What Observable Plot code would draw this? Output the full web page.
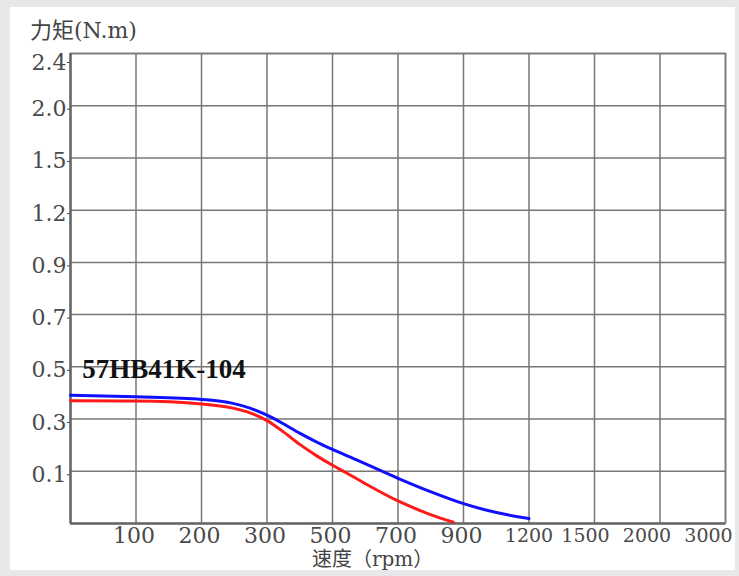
<!DOCTYPE html>
<html>
<head>
<meta charset="utf-8">
<script src="https://cdn.jsdelivr.net/npm/d3@7"></script>
<script src="https://cdn.jsdelivr.net/npm/@observablehq/plot@0.6"></script>
<style>
  html, body { margin: 0; padding: 0; background: #e8e8ea; }
  #page { position: relative; width: 739px; height: 576px; overflow: hidden; }
  #card { position: absolute; left: 10px; top: 7px; width: 725px; height: 563px; background: #fff; }
  #ytitle { position: absolute; left: 20px; top: 12px; font-family: "DejaVu Serif", "Noto Sans CJK SC", serif; font-size: 22px; line-height: 24px; color: #444; white-space: nowrap; }
  #xtitle { position: absolute; left: 302px; top: 543px; font-family: "DejaVu Serif", "Noto Sans CJK SC", serif; font-size: 20px; line-height: 18px; color: #444; white-space: nowrap; }
  #chart { position: absolute; left: 0; top: 0; }
</style>
</head>
<body>
<div id="page"><div id="card">
  <div id="chart"></div>
  <div id="ytitle"></div>
  <div id="xtitle"></div>
</div></div>
<script>
// Axis tick values (non-uniform, evenly spaced in the chart)
const speedTicks = [0, 100, 200, 300, 500, 700, 900, 1200, 1500, 2000, 3000];
const torqueTicks = [0, 0.1, 0.3, 0.5, 0.7, 0.9, 1.2, 1.5, 2.0, 2.4];

// Texts
const yTitle = "力矩(N.m)";
const xTitle = "速度（rpm）";
const modelLabel = ["57HB41K-104"];

// Blue curve (rpm, N.m)
const blueSpeed  = [0, 100, 200, 248, 274, 300, 350, 401, 452, 500, 553, 700, 797, 900, 1051, 1200];
const blueTorque = [0.391, 0.385, 0.375, 0.360, 0.342, 0.315, 0.282, 0.245, 0.212, 0.184, 0.155, 0.0866, 0.0615, 0.038, 0.0209, 0.0095];

// Red curve (rpm, N.m)
const redSpeed  = [0, 100, 200, 248, 274, 300, 350, 401, 452, 500, 543, 594, 700, 797, 869];
const redTorque = [0.370, 0.369, 0.358, 0.342, 0.324, 0.294, 0.251, 0.202, 0.159, 0.123, 0.0968, 0.0785, 0.0432, 0.0176, 0.0026];

const blue = blueSpeed.map((s, i) => ({speed: s, torque: blueTorque[i]}));
const red = redSpeed.map((s, i) => ({speed: s, torque: redTorque[i]}));

document.getElementById("ytitle").textContent = yTitle;
document.getElementById("xtitle").textContent = xTitle;

const xLabelsA = speedTicks.filter(d => d > 0 && d < 1200);
const xLabelsB = speedTicks.filter(d => d === 1200);
const xLabelsC = speedTicks.filter(d => d === 1500);
const xLabelsD = speedTicks.filter(d => d === 2000);
const xLabelsE = speedTicks.filter(d => d === 3000);
const yLabelsA = torqueTicks.filter(d => d > 0 && d < 2.4);
const yLabelsB = torqueTicks.filter(d => d >= 2.4);

const gridStyle = {stroke: "#777", strokeOpacity: 1, strokeWidth: 1.5};
const xAxisOpts = {tickSize: 0, tickPadding: 4, tickFormat: d => String(d), label: null};

const chart = Plot.plot({
  width: 725,
  height: 563,
  marginLeft: 60,
  marginRight: 10,
  marginTop: 46,
  marginBottom: 47,
  style: {fontFamily: "DejaVu Serif, serif", fontSize: "22px", color: "#4a4a4a", background: "transparent"},
  x: {type: "linear", domain: speedTicks},
  y: {type: "linear", domain: torqueTicks},
  marks: [
    Plot.gridX(speedTicks.slice(1), gridStyle),
    Plot.gridY(torqueTicks.slice(1), gridStyle),
    Plot.frame({stroke: "#777", strokeWidth: 1.5}),
    Plot.ruleX([0], {stroke: "#666", strokeWidth: 2.5}),
    Plot.ruleY([0], {stroke: "#666", strokeWidth: 2.5}),
    Plot.axisY(yLabelsA, {tickSize: 3, tickPadding: 1, dy: 3.5, tickFormat: d => d.toFixed(1), label: null}),
    Plot.axisY(yLabelsB, {tickSize: 3, tickPadding: 1, dy: 9, tickFormat: d => d.toFixed(1), label: null}),
    Plot.axisX(xLabelsA, {...xAxisOpts, dx: -2}),
    Plot.axisX(xLabelsB, {...xAxisOpts, dx: 0, fontSize: 19, dy: 1}),
    Plot.axisX(xLabelsC, {...xAxisOpts, dx: -9, fontSize: 19, dy: 1}),
    Plot.axisX(xLabelsD, {...xAxisOpts, dx: -13, fontSize: 19, dy: 1}),
    Plot.axisX(xLabelsE, {...xAxisOpts, dx: -17, fontSize: 19, dy: 1}),
    Plot.line(red, {x: "speed", y: "torque", stroke: "#ff1a1a", strokeWidth: 3, curve: "monotone-x"}),
    Plot.line(blue, {x: "speed", y: "torque", stroke: "#1010ff", strokeWidth: 3, curve: "monotone-x"}),
    Plot.text(modelLabel, {x: 18, y: 0.49, text: d => d, textAnchor: "start", fill: "#111", fontFamily: "Liberation Serif, serif", fontWeight: "bold", fontSize: 27})
  ]
});
document.getElementById("chart").appendChild(chart);
</script>
</body>
</html>
